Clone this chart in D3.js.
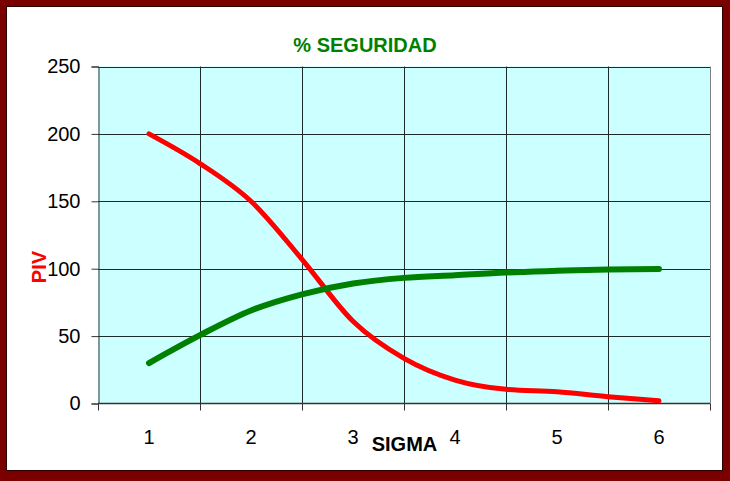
<!DOCTYPE html>
<html>
<head>
<meta charset="utf-8">
<script src="https://cdn.jsdelivr.net/npm/d3@7"></script>
<style>
  html, body { margin: 0; padding: 0; background: #fff; }
  svg { display: block; font-family: Arial, "Liberation Sans", sans-serif; }
</style>
</head>
<body>
<svg id="chart" width="730" height="481"></svg>
<script>
// ---- data ----
const categories = [1, 2, 3, 4, 5, 6];
const sigmaSteps = [1, 1.5, 2, 2.5, 3, 3.5, 4, 4.5, 5, 5.5, 6];
const pivValues = [200, 178, 150, 107, 61, 33.5, 17.4, 10.5, 8.7, 5, 2];
const seguridadValues = [30, 50.7, 69, 81, 89, 93.2, 95.2, 97.2, 98.4, 99.4, 99.8];
const yTicks = [0, 50, 100, 150, 200, 250];
const titleText = "% SEGURIDAD";
const xLabel = "SIGMA";
const yLabel = "PIV";

// ---- layout ----
const W = 730, H = 481;
const plot = { left: 98, right: 710, top: 66.5, bottom: 403.5 };

const svg = d3.select("#chart");

// frame
svg.append("rect").attr("x", 0).attr("y", 0).attr("width", W).attr("height", H).attr("fill", "#7a0000");
svg.append("rect").attr("x", 6).attr("y", 6).attr("width", 717).attr("height", 465).attr("fill", "#2a0000");
svg.append("rect").attr("x", 7).attr("y", 7).attr("width", 715).attr("height", 463).attr("fill", "#ffffff");

// scales
const x = d3.scaleLinear().domain([0.5, 6.5]).range([plot.left, plot.right]);
const y = d3.scaleLinear().domain([0, 250]).range([plot.bottom, plot.top]);

// plot area
svg.append("rect")
  .attr("x", plot.left).attr("y", plot.top)
  .attr("width", plot.right - plot.left).attr("height", plot.bottom - plot.top)
  .attr("fill", "#ccffff");

// horizontal grid
svg.append("g").selectAll("line").data(yTicks.filter(d => d > 0)).join("line")
  .attr("x1", plot.left).attr("x2", plot.right)
  .attr("y1", d => Math.round(y(d)) + 0.5).attr("y2", d => Math.round(y(d)) + 0.5)
  .attr("stroke", "#1e2a2a").attr("stroke-width", 1);

// vertical grid at category boundaries
const bounds = d3.range(1, categories.length).map(i => categories[i] - 0.5);
svg.append("g").selectAll("line").data(bounds).join("line")
  .attr("y1", plot.top).attr("y2", plot.bottom)
  .attr("x1", d => Math.round(x(d)) + 0.5).attr("x2", d => Math.round(x(d)) + 0.5)
  .attr("stroke", "#1e2a2a").attr("stroke-width", 1);

// right border
svg.append("line")
  .attr("x1", plot.right + 0.5).attr("x2", plot.right + 0.5)
  .attr("y1", plot.top).attr("y2", plot.bottom)
  .attr("stroke", "#808080").attr("stroke-width", 1);

// y axis
const yAxis = d3.axisLeft(y).tickValues(yTicks).tickSize(7).tickPadding(11);
const gy = svg.append("g").attr("transform", `translate(${plot.left + 0.5},0)`).call(yAxis);
gy.select(".domain").attr("stroke", "#333");
gy.selectAll(".tick line").attr("stroke", "#333");
gy.selectAll(".tick text").attr("font-size", 20).attr("fill", "#000")
  .attr("font-family", "Arial, 'Liberation Sans', sans-serif");

// x axis (category axis: ticks at boundaries, labels at centres)
const xb = svg.append("g").attr("transform", `translate(0,${plot.bottom})`);
xb.append("line").attr("x1", plot.left).attr("x2", plot.right)
  .attr("y1", 0).attr("y2", 0).attr("stroke", "#333").attr("stroke-width", 1.5);
xb.selectAll("line.tk").data([0.5].concat(bounds, [6.5])).join("line")
  .attr("class", "tk")
  .attr("x1", d => Math.round(x(d)) + 0.5).attr("x2", d => Math.round(x(d)) + 0.5)
  .attr("y1", 0).attr("y2", 7).attr("stroke", "#333");
xb.selectAll("text").data(categories).join("text")
  .attr("x", d => x(d)).attr("y", 40)
  .attr("text-anchor", "middle").attr("font-size", 20).attr("fill", "#000")
  .text(d => d);

// lines
const line = d3.line().x(d => x(d[0])).y(d => y(d[1])).curve(d3.curveMonotoneX);
svg.append("path")
  .datum(sigmaSteps.map((s, i) => [s, pivValues[i]]))
  .attr("d", line).attr("fill", "none")
  .attr("stroke", "#ff0000").attr("stroke-width", 5).attr("stroke-linecap", "round").attr("stroke-linejoin", "round");
svg.append("path")
  .datum(sigmaSteps.map((s, i) => [s, seguridadValues[i]]))
  .attr("d", line).attr("fill", "none")
  .attr("stroke", "#008000").attr("stroke-width", 6).attr("stroke-linecap", "round").attr("stroke-linejoin", "round");

// titles
svg.append("text").attr("x", 365).attr("y", 51.5).attr("text-anchor", "middle")
  .attr("font-size", 20).attr("font-weight", "bold").attr("fill", "#008000").text(titleText);
svg.append("text").attr("x", 404.5).attr("y", 451).attr("text-anchor", "middle")
  .attr("font-size", 20).attr("font-weight", "bold").attr("fill", "#000").text(xLabel);
svg.append("text").attr("transform", "translate(46,267) rotate(-90)").attr("text-anchor", "middle")
  .attr("font-size", 20).attr("font-weight", "bold").attr("fill", "#ff0000").text(yLabel);
</script>
</body>
</html>
